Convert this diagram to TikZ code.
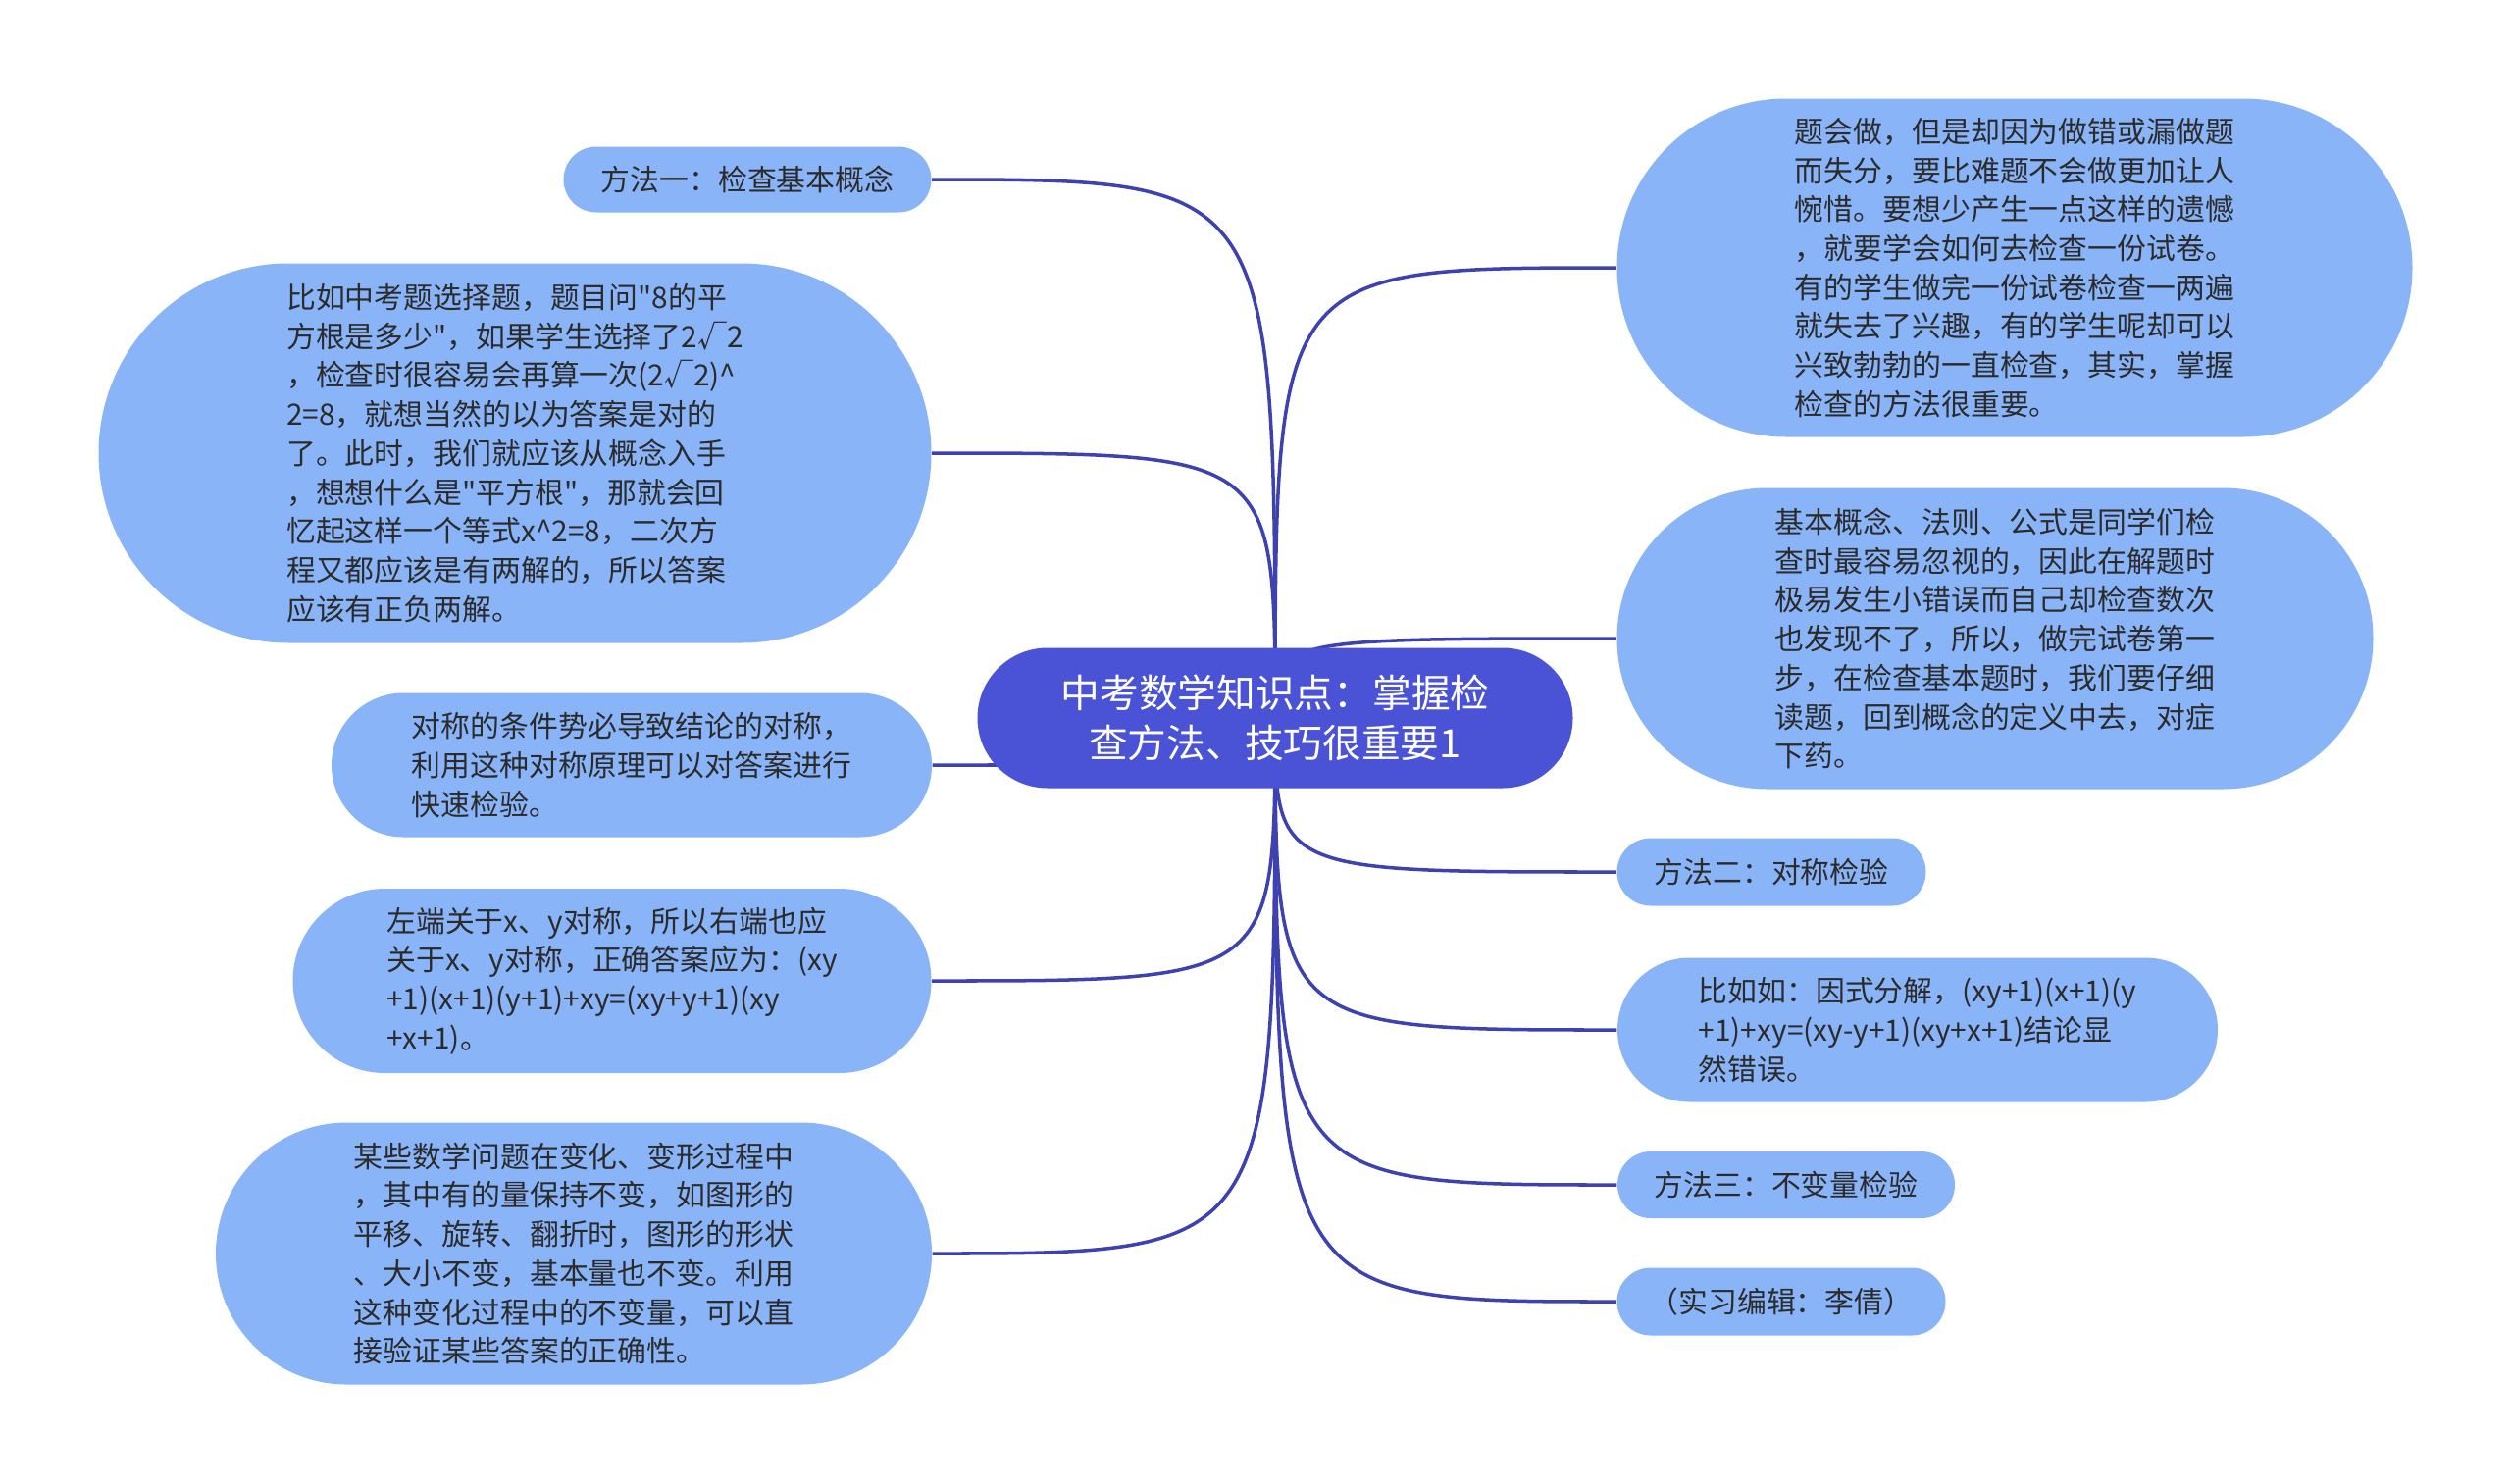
\documentclass[tikz,border=0pt]{standalone}
\usepackage{fontspec}
\setmainfont{Noto Sans CJK SC}[Ligatures=TeXOff]
\usetikzlibrary{backgrounds}

\definecolor{leafblue}{HTML}{8AB4F8}
\definecolor{rootblue}{HTML}{4A52D6}
\definecolor{linkblue}{HTML}{3D42B0}
\definecolor{inkgray}{HTML}{2B2B2B}

\tikzset{
  box/.style 2 args={rectangle, inner sep=0pt, minimum width=#1cm,
    minimum height=#2cm, rounded corners=#2*5mm},
  topic/.style={fill=rootblue, text=white, align=center,
    font=\fontsize{11.3}{14.4}\selectfont},
  leaf/.style={fill=leafblue, text=inkgray, align=left,
    font=\fontsize{8.5}{11.3}\selectfont},
  link/.style={draw=linkblue, line width=1pt}
}

\begin{document}
\begin{tikzpicture}

\useasboundingbox (0,0) rectangle (25.6,-15.12);

% -----------------------------
% Central topic
% -----------------------------
\node[topic, box={6.07}{1.43}] (root) at (13.00,-7.32)
  {中考数学知识点：掌握检\\查方法、技巧很重要1};

% -----------------------------
% Left branch
% -----------------------------
\node[leaf, box={3.75}{0.67}] (m1) at (7.62,-1.83) {方法一：检查基本概念};

\node[leaf, box={8.49}{3.87}] (concept) at (5.25,-4.62)
  {比如中考题选择题，题目问"8的平\\
   方根是多少"，如果学生选择了2√2\\
   ，检查时很容易会再算一次(2√2)\textasciicircum\\
   2=8，就想当然的以为答案是对的\\
   了。此时，我们就应该从概念入手\\
   ，想想什么是"平方根"，那就会回\\
   忆起这样一个等式x\textasciicircum 2=8，二次方\\
   程又都应该是有两解的，所以答案\\
   应该有正负两解。};

\node[leaf, box={6.12}{1.47}] (symm) at (6.44,-7.80)
  {对称的条件势必导致结论的对称，\\
   利用这种对称原理可以对答案进行\\
   快速检验。};

\node[leaf, box={6.51}{1.88}] (answer) at (6.24,-10.00)
  {左端关于x、y对称，所以右端也应\\
   关于x、y对称，正确答案应为：(xy\\
   +1)(x+1)(y+1)+xy=(xy+y+1)(xy\\
   +x+1)。};

\node[leaf, box={7.30}{2.67}] (invar) at (5.85,-12.78)
  {某些数学问题在变化、变形过程中\\
   ，其中有的量保持不变，如图形的\\
   平移、旋转、翻折时，图形的形状\\
   、大小不变，基本量也不变。利用\\
   这种变化过程中的不变量，可以直\\
   接验证某些答案的正确性。};

% -----------------------------
% Right branch
% -----------------------------
\node[leaf, box={8.11}{3.45}] (intro) at (20.54,-2.73)
  {题会做，但是却因为做错或漏做题\\
   而失分，要比难题不会做更加让人\\
   惋惜。要想少产生一点这样的遗憾\\
   ，就要学会如何去检查一份试卷。\\
   有的学生做完一份试卷检查一两遍\\
   就失去了兴趣，有的学生呢却可以\\
   兴致勃勃的一直检查，其实，掌握\\
   检查的方法很重要。};

\node[leaf, box={7.71}{3.07}] (basic) at (20.34,-6.51)
  {基本概念、法则、公式是同学们检\\
   查时最容易忽视的，因此在解题时\\
   极易发生小错误而自己却检查数次\\
   也发现不了，所以，做完试卷第一\\
   步，在检查基本题时，我们要仔细\\
   读题，回到概念的定义中去，对症\\
   下药。};

\node[leaf, box={3.15}{0.69}] (m2) at (18.06,-8.89) {方法二：对称检验};

\node[leaf, box={6.12}{1.47}] (factor) at (19.55,-10.50)
  {比如如：因式分解，(xy+1)(x+1)(y\\
   +1)+xy=(xy-y+1)(xy+x+1)结论显\\
   然错误。};

\node[leaf, box={3.44}{0.68}] (m3) at (18.21,-12.08) {方法三：不变量检验};

\node[leaf, box={3.35}{0.69}] (editor) at (18.16,-13.27) {（实习编辑：李倩）};

% -----------------------------
% Curved links behind the nodes
% -----------------------------
\begin{pgfonlayer}{background}
  \foreach \n in {m1,concept,symm,answer,invar}
    \draw[link] (root.center) .. controls (root.center |- \n.east) .. (\n.east);
  \foreach \n in {intro,basic,m2,factor,m3,editor}
    \draw[link] (root.center) .. controls (root.center |- \n.west) .. (\n.west);
\end{pgfonlayer}

\end{tikzpicture}
\end{document}
